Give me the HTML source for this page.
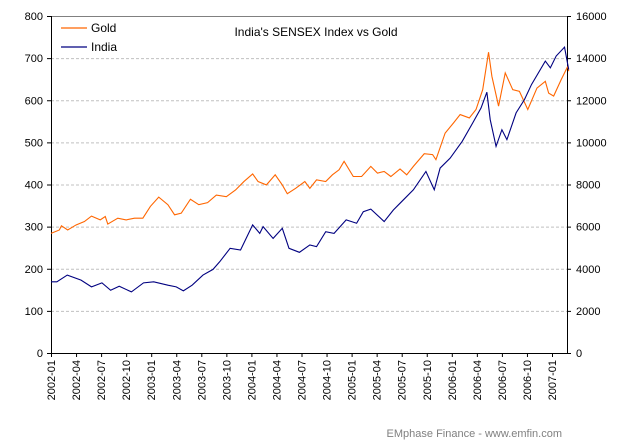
<!DOCTYPE html>
<html><head><meta charset="utf-8"><style>
body{margin:0;background:#fff;}
svg{display:block;font-family:"Liberation Sans",sans-serif;}
</style></head><body>
<svg id="c" width="624" height="447">
<text x="316" y="36" font-size="12" text-anchor="middle" fill="#000">India's SENSEX Index vs Gold</text>
<g>
<line x1="61" y1="28" x2="87" y2="28" stroke="#ff6600" stroke-width="1.3"/>
<text x="91" y="32" font-size="12">Gold</text>
<line x1="61" y1="47" x2="87" y2="47" stroke="#000080" stroke-width="1.3"/>
<text x="91" y="51" font-size="12">India</text>
</g>
<text x="562" y="437" font-size="11" fill="#808080" text-anchor="end">EMphase Finance - www.emfin.com</text>
</svg>
<script>
const goldMonths=[0,1,1.25,2,3,4,4.85,5.9,6.5,6.8,8,9,10,11,11.9,12.9,14,14.8,15.6,16.7,17.7,18.75,19.8,21,22.1,23.1,24.15,24.8,25.8,26.85,27.7,28.3,29.3,30.4,31,31.8,32.9,33.7,34.5,35.1,36.2,37.2,38.3,39.1,39.9,40.7,41.8,42.6,43.4,44.7,45.7,46.1,47.2,48.2,49,50.1,50.9,51.7,52.4,52.8,53.6,54.4,55.3,56.1,57.1,58.2,59.2,59.6,60.2,61.1,61.9,62];
const goldValues=[284,292,302,292,304,312,325,316,324,306,320,316,320,320,348,370,352,328,332,365,352,357,375,371,387,407,425,407,399,423,399,378,391,407,391,411,407,423,435,455,419,419,443,427,431,419,437,423,443,473,471,459,522,546,566,558,578,625,714,657,586,665,625,621,578,629,645,617,610,649,681,669];
const indiaMonths=[0,0.7,1.95,3.6,4.85,6.1,7.14,8.17,9.63,11.08,12.3,14,15,15.85,16.9,18.2,19.4,20.2,21.45,22.7,24.15,25,25.4,26.6,27.7,28.5,29.75,31,31.8,32.9,33.9,35.35,36.6,37.4,38.3,39.9,41,42,43.4,44.9,45.9,46.6,47.8,49.25,50.5,51.5,52.2,52.6,53.3,54,54.6,55.7,56.7,57.55,59.2,59.8,60.5,61.5,62];
const indiaValues=[3380,3380,3700,3460,3140,3330,2980,3170,2900,3330,3380,3220,3140,2950,3220,3700,3970,4330,4970,4890,6080,5680,6000,5440,5920,4970,4780,5130,5050,5760,5680,6320,6160,6710,6830,6240,6790,7190,7750,8620,7750,8780,9250,10050,10920,11630,12380,11080,9810,10600,10130,11400,12030,12750,13860,13540,14100,14520,13460];
const leftTicks=[0,100,200,300,400,500,600,700,800];
const rightTicks=[0,2000,4000,6000,8000,10000,12000,14000,16000];
const xLabels=["2002-01","2002-04","2002-07","2002-10","2003-01","2003-04","2003-07","2003-10","2004-01","2004-04","2004-07","2004-10","2005-01","2005-04","2005-07","2005-10","2006-01","2006-04","2006-07","2006-10","2007-01"];

const L=51,R=567,T=16,B=353,NS="http://www.w3.org/2000/svg";
const X=m=>L+m*8.35;
const YL=v=>B-(v/800)*(B-T);
const YR=v=>B-(v/16000)*(B-T);
const svg=document.getElementById('c');
function add(tag,attrs){const e=document.createElementNS(NS,tag);for(const k in attrs)e.setAttribute(k,attrs[k]);svg.appendChild(e);return e;}

leftTicks.forEach((v)=>{
  if(v>0&&v<800){const g=add('line',{x1:L,x2:R,y1:YL(v)+0.5,y2:YL(v)+0.5,stroke:'#c0c0c0','stroke-dasharray':'3,2'});
  
  }
  const t=add('text',{x:L-8,y:YL(v)+4,'font-size':11,'text-anchor':'end'});t.textContent=v;
  
  
  const tk=add('line',{x1:L-4,x2:L,y1:YL(v)+0.5,y2:YL(v)+0.5,stroke:'#000'});
  
  
});
rightTicks.forEach(v=>{
  const t=add('text',{x:R+9,y:YR(v)+4,'font-size':11});t.textContent=v;
  
  
  const tk=add('line',{x1:R,x2:R+4,y1:YR(v)+0.5,y2:YR(v)+0.5,stroke:'#000'});
  
  
});
xLabels.forEach((s,i)=>{
  const x=X(i*3);
  const tk=add('line',{x1:x+0.5,x2:x+0.5,y1:B,y2:B+4,stroke:'#000'});
  
  
  const t=add('text',{x:0,y:0,'font-size':11,'text-anchor':'end',transform:`translate(${x+4},${B+7}) rotate(-90)`});
  t.textContent=s;
  
  
});
const topBorder=add('line',{x1:L,x2:R,y1:T+0.5,y2:T+0.5,stroke:'#808080'});


const ax=add('path',{d:`M${L+0.5},${T} V${B+0.5} H${R+0.5} V${T}`,fill:'none',stroke:'#000'});


const gp=add('polyline',{points:goldMonths.map((m,i)=>X(m)+','+YL(goldValues[i])).join(' '),fill:'none',stroke:'#ff6600','stroke-width':1.1});


const ip=add('polyline',{points:indiaMonths.map((m,i)=>X(m)+','+YR(indiaValues[i])).join(' '),fill:'none',stroke:'#000080','stroke-width':1.1});


</script>
</body></html>
